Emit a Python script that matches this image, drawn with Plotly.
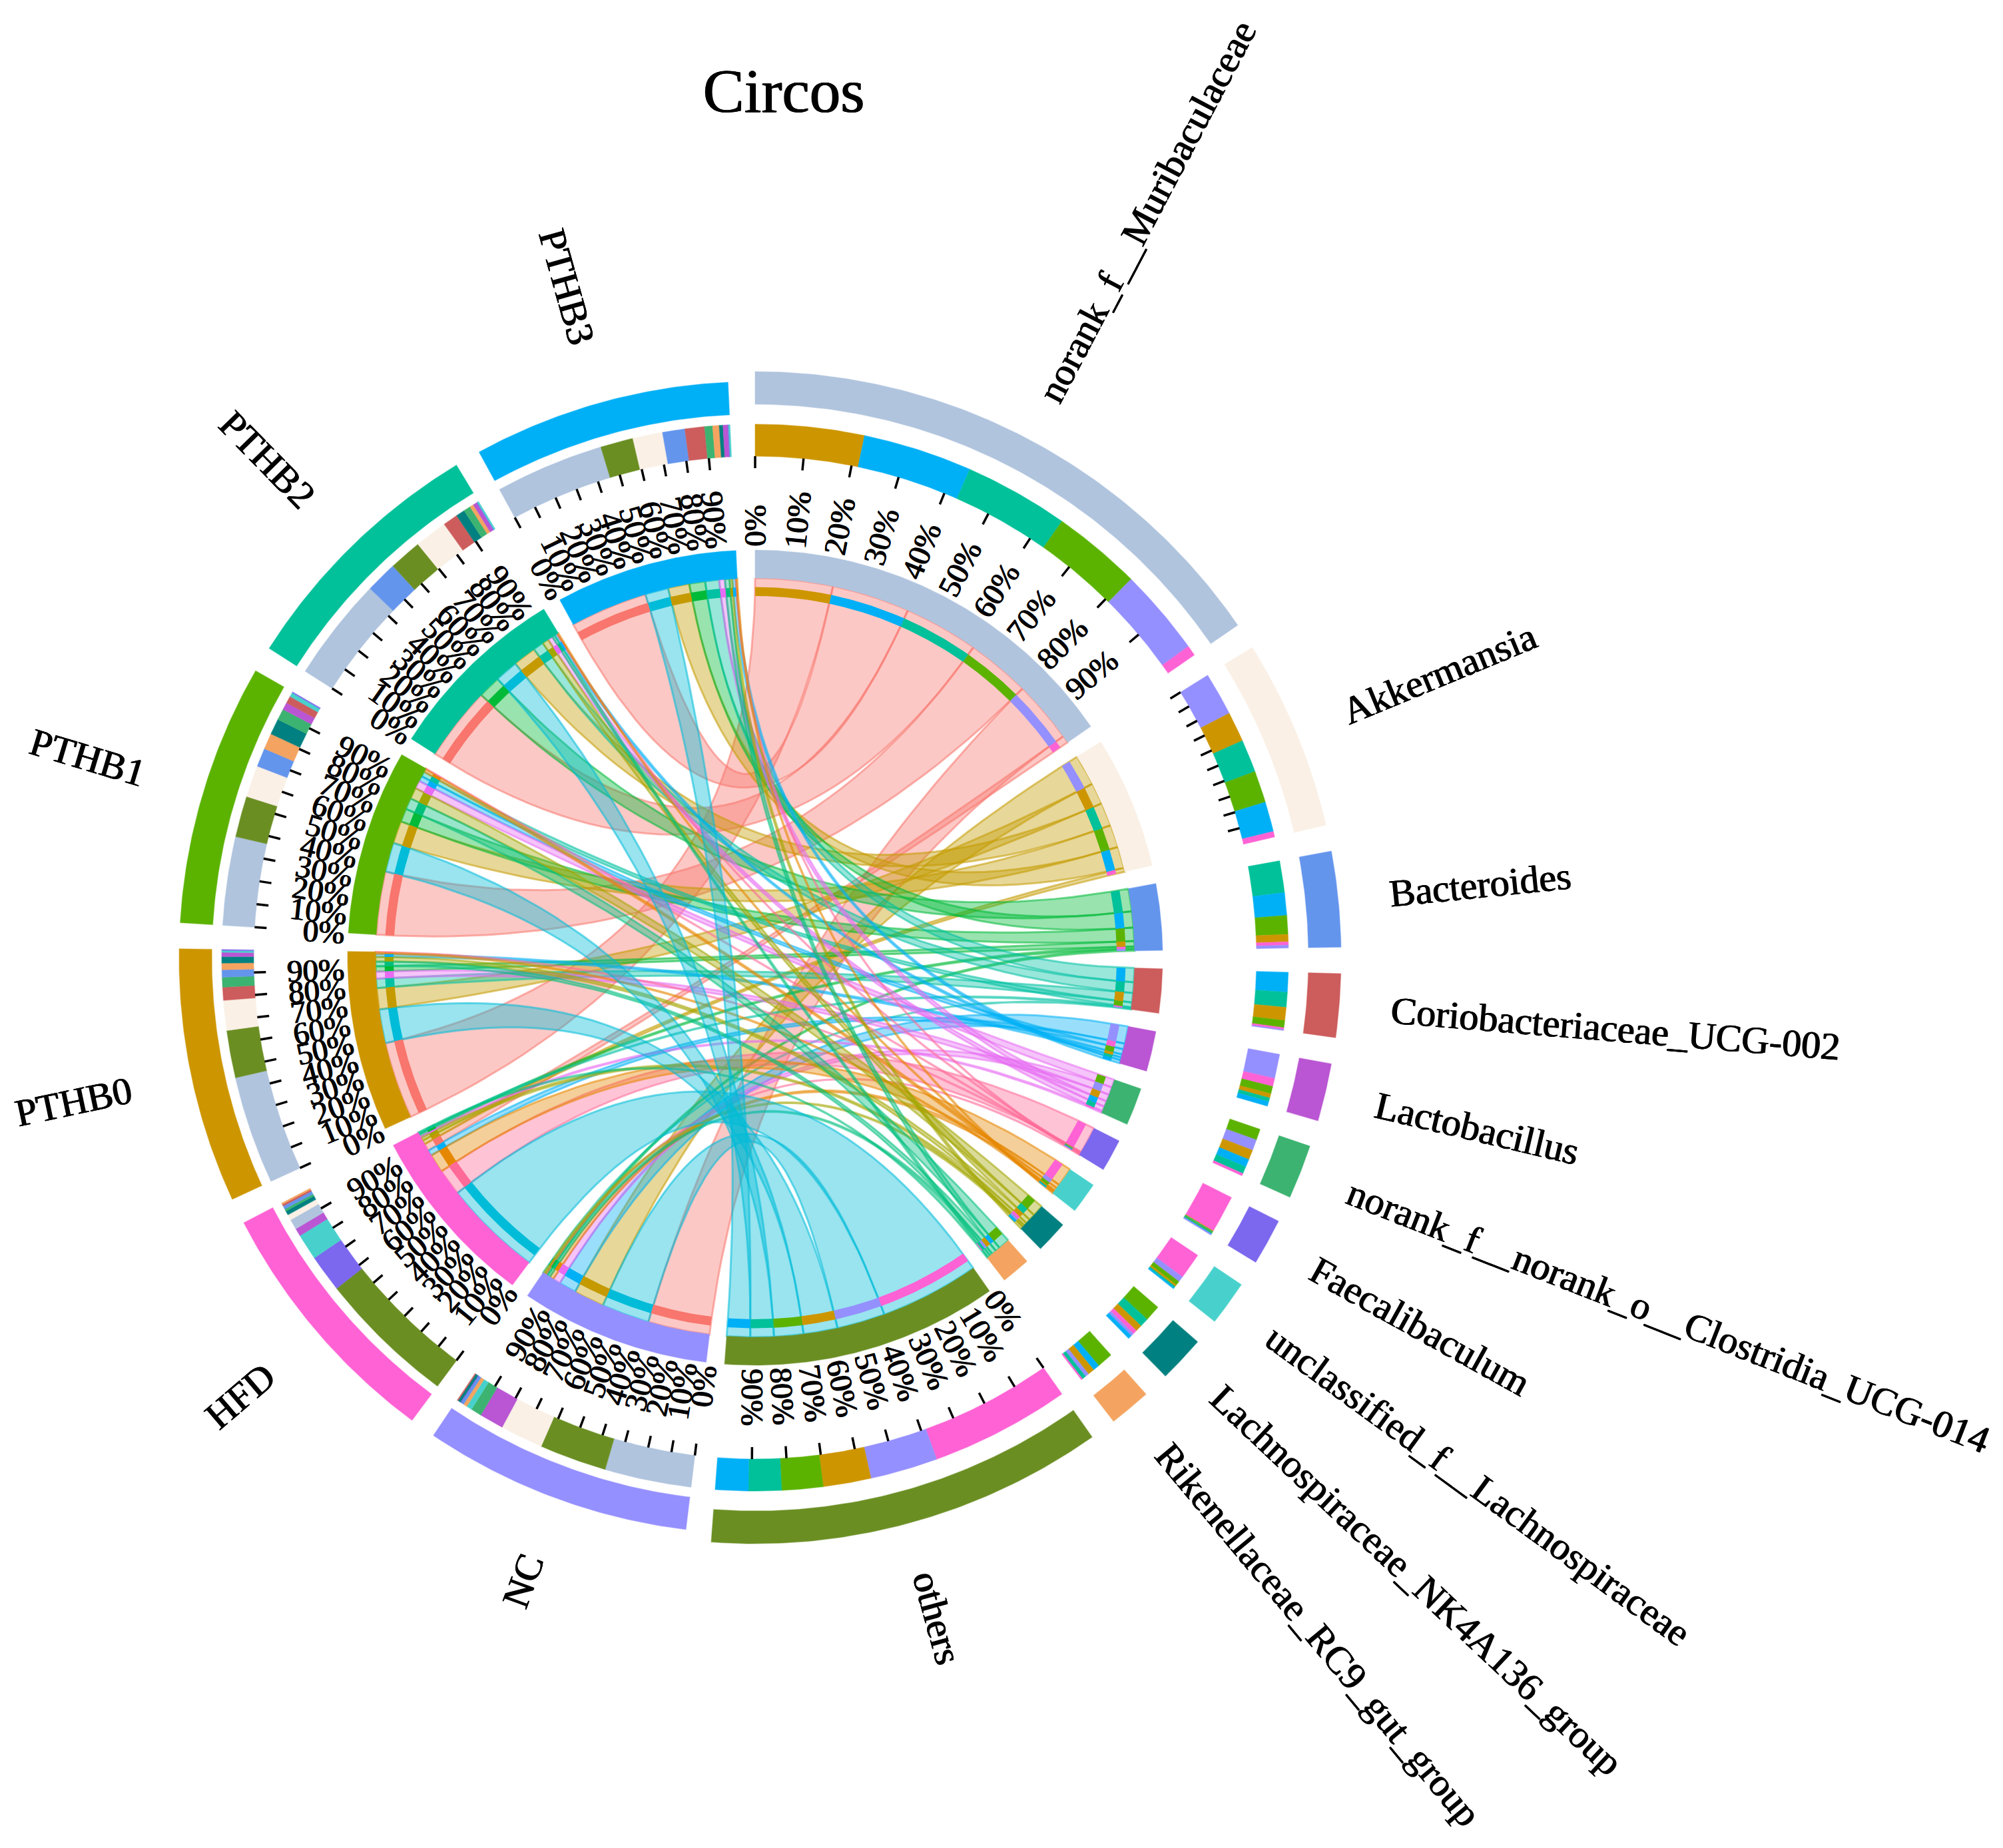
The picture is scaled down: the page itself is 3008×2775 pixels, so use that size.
import math
import plotly.graph_objects as go

taxa = ["norank_f__Muribaculaceae", "Akkermansia", "Bacteroides", "Coriobacteriaceae_UCG-002",
        "Lactobacillus", "norank_f__norank_o__Clostridia_UCG-014", "Faecalibaculum",
        "unclassified_f__Lachnospiraceae", "Lachnospiraceae_NK4A136_group",
        "Rikenellaceae_RC9_gut_group", "others"]
samples = ["NC", "HFD", "PTHB0", "PTHB1", "PTHB2", "PTHB3"]
tick_labels = ["0%", "10%", "20%", "30%", "40%", "50%", "60%", "70%", "80%", "90%"]

# abundance of each taxon (same order as taxa) in each sample
values_NC    = [9.3, 4.6, 0.3, 0.1, 2.6, 1.15, 0.1, 0.6, 0.3, 0.4, 7.2]
values_HFD   = [1.1, 0.6, 0.35, 0.2, 0.85, 0.25, 4.0, 2.8, 0.45, 0.15, 14.9]
values_PTHB0 = [11.6, 3.2, 0.8, 1.4, 0.45, 1.05, 0.1, 0.2, 0.7, 0.7, 5.1]
values_PTHB1 = [9.5, 3.4, 2.0, 0.75, 0.8, 1.2, 0.1, 0.45, 1.7, 1.7, 4.4]
values_PTHB2 = [11.15, 3.5, 3.4, 1.6, 0.4, 0.75, 0.1, 0.15, 0.95, 0.4, 3.5]
values_PTHB3 = [11.65, 3.2, 2.4, 2.1, 0.5, 0.85, 0.1, 0.15, 0.4, 0.7, 3.5]
values = [values_NC, values_HFD, values_PTHB0, values_PTHB1, values_PTHB2, values_PTHB3]

# order of the parts inside each taxon sector (indices into samples), clockwise
order_taxon = [
    [2, 5, 4, 3, 0, 1], [0, 2, 4, 3, 5, 1], [4, 5, 3, 2, 1, 0], [5, 4, 2, 3, 1, 0],
    [0, 1, 3, 2, 4, 5], [3, 0, 2, 5, 4, 1], [1, 2, 4, 3, 5, 0], [1, 0, 3, 2, 4, 5],
    [3, 4, 2, 1, 0, 5], [3, 5, 2, 0, 4, 1], [1, 0, 2, 3, 4, 5],
]
# order of the parts inside each sample sector (indices into taxa), clockwise
order_sample = [
    [0, 10, 1, 4, 5, 7, 9, 2, 6, 8, 3],
    [10, 6, 7, 4, 0, 1, 8, 5, 2, 3, 9],
    [0, 10, 1, 3, 5, 2, 9, 8, 4, 7, 6],
    [0, 10, 1, 2, 9, 8, 5, 4, 3, 7, 6],
    [0, 2, 10, 1, 3, 8, 5, 9, 4, 6, 7],
    [0, 10, 1, 2, 3, 5, 9, 8, 4, 6, 7],
]

taxon_colors = ["#B0C4DE", "#FAF0E6", "#6495ED", "#CD5C5C", "#BA55D3", "#3CB371",
                "#7B68EE", "#48D1CC", "#008080", "#F4A460", "#6B8E23"]
sample_colors = ["#9590FF", "#FF62D5", "#CD9600", "#5BB300", "#00C19A", "#00B0F6"]
ribbon_colors = ["#F8766D", "#C49A00", "#00BA38", "#00C1A3", "#00B0F6", "#E76BF3",
                 "#FF6A98", "#E58700", "#A3A500", "#00BF7D", "#00BCD8"]

tick_taxa = {"norank_f__Muribaculaceae", "Akkermansia", "others"}
label_taxa = {"norank_f__Muribaculaceae", "others"}

CX, CY = 1134.0, 1438.0
START, GAP = 0.0, 2.6
TAXA_SPAN, SAMPLE_SPAN = 158.3, 157.4
R_OUT_T = (831, 880)
R_OUT_S = (816, 865)
R_MID = (753, 801)
R_TICK = (735, 753)
R_IN = (570, 612)
R_STRIPE = (543, 556.5)
R_BASE = 570
R_LABEL = 617
R_NAME = 958
LABEL_SIZE, NAME_SIZE = 47, 58
THICK = "0.7px 0 0 #000, -0.7px 0 0 #000"


def rgba(hexc, a):
    return f"rgba({int(hexc[1:3],16)},{int(hexc[3:5],16)},{int(hexc[5:7],16)},{a})"


def pt(theta, r):
    t = math.radians(theta)
    return CX + r * math.sin(t), CY - r * math.cos(t)


def arc(t1, t2, r):
    n = max(2, int(abs(t2 - t1) / 0.5) + 2)
    return [pt(t1 + (t2 - t1) * i / (n - 1), r) for i in range(n)]


def bez(p0, p2):
    out = []
    for i in range(41):
        u = i / 40
        out.append(((1-u)**2*p0[0] + 2*u*(1-u)*CX + u*u*p2[0],
                    (1-u)**2*p0[1] + 2*u*(1-u)*CY + u*u*p2[1]))
    return out


W = dict(zip("0123456789%_-", [.5]*10 + [.833, .5, .333]))
W.update(dict(a=.444, b=.5, c=.444, d=.5, e=.444, f=.333, g=.5, h=.5, i=.278, j=.278, k=.5, l=.278,
              m=.778, n=.5, o=.5, p=.5, q=.5, r=.333, s=.389, t=.278, u=.5, v=.5, w=.722, x=.5, y=.5, z=.444,
              A=.722, B=.667, C=.667, D=.722, F=.556, G=.722, H=.722, L=.611, N=.722, P=.556, R=.667, T=.611, U=.722))


def text_w(s, size):
    return sum(W.get(c, .5) for c in s) * size


fig = go.Figure()


def poly(pts, fill, line=None, lw=0):
    fig.add_trace(go.Scatter(x=[p[0] for p in pts] + [pts[0][0]], y=[p[1] for p in pts] + [pts[0][1]],
                             mode="lines", fill="toself", fillcolor=fill,
                             line=dict(color=line or "rgba(0,0,0,0)", width=lw),
                             hoverinfo="skip", showlegend=False))


def band(t1, t2, rr, color, edge=True):
    pts = arc(t1, t2, rr[1]) + arc(t2, t1, rr[0])
    poly(pts, color, rgba(color, .35) if edge else None, 1.5 if edge else 0)


taxon_totals = [sum(v[j] for v in values) for j in range(len(taxa))]
sample_totals = [sum(v) for v in values]
scale_t = TAXA_SPAN / sum(taxon_totals)
scale_s = SAMPLE_SPAN / sum(sample_totals)

sectors = []
a = START
for name, tot, col, sc in zip(taxa + samples, taxon_totals + sample_totals, taxon_colors + sample_colors,
                              [scale_t] * len(taxa) + [scale_s] * len(samples)):
    w = tot * sc
    sectors.append((name, a, a + w, col))
    a += w + GAP

n_t = len(taxa)
taxon_span, sample_span = {}, {}
for j in range(n_t):
    a = sectors[j][1]
    for i in order_taxon[j]:
        w = values[i][j] * scale_t
        taxon_span[(i, j)] = (a, a + w)
        a += w
for i in range(len(samples)):
    a = sectors[n_t + i][1]
    for j in order_sample[i]:
        w = values[i][j] * scale_s
        sample_span[(i, j)] = (a, a + w)
        a += w

# ribbons
for j in range(n_t):
    for i in order_taxon[j]:
        a1, a2 = taxon_span[(i, j)]
        b1, b2 = sample_span[(i, j)]
        pts = arc(a1, a2, R_BASE) + bez(pt(a2, R_BASE), pt(b1, R_BASE)) + arc(b1, b2, R_BASE) + bez(pt(b2, R_BASE), pt(a1, R_BASE))
        poly(pts, rgba(ribbon_colors[j], .4), rgba(ribbon_colors[j], .55), 3)

# stripes
for (i, j), (a1, a2) in taxon_span.items():
    band(a1, a2, R_STRIPE, sample_colors[i], False)
for (i, j), (b1, b2) in sample_span.items():
    band(b1, b2, R_STRIPE, ribbon_colors[j], False)

# rings
for k, (name, t1, t2, col) in enumerate(sectors):
    band(t1, t2, R_OUT_S if k >= n_t else R_OUT_T, col)
    band(t1, t2, R_IN, col)
for (i, j), (a1, a2) in taxon_span.items():
    band(a1, a2, R_MID, sample_colors[i])
for (i, j), (b1, b2) in sample_span.items():
    band(b1, b2, R_MID, taxon_colors[j])

# ticks and tick labels
tx, ty = [], []
annotations = []
for k, (name, t1, t2, col) in enumerate(sectors):
    is_sample = k >= n_t
    for q, lab in enumerate(tick_labels):
        th = t1 + (t2 - t1) * q / 10
        if is_sample or name in tick_taxa:
            p0, p1 = pt(th, R_TICK[1]), pt(th, R_TICK[0])
            tx += [p0[0], p1[0], None]
            ty += [p0[1], p1[1], None]
        if is_sample or name in label_taxa:
            w = text_w(lab, LABEL_SIZE)
            x, y = pt(th, R_LABEL + w / 2)
            annotations.append(dict(x=x, y=y, text=lab, showarrow=False, xanchor="center", yanchor="middle",
                                    textangle=(th - 270) if is_sample else (th - 90),
                                    font=dict(family="Liberation Serif", size=LABEL_SIZE, color="black", shadow=THICK)))
    mid = (t1 + t2) / 2
    w = text_w(name, NAME_SIZE)
    x, y = pt(mid, R_NAME + w / 2)
    annotations.append(dict(x=x, y=y, text=name, showarrow=False, xanchor="center", yanchor="middle",
                            textangle=(mid - 270) if is_sample else (mid - 90),
                            font=dict(family="Liberation Serif", size=NAME_SIZE, color="black", shadow=THICK)))

fig.add_trace(go.Scatter(x=tx, y=ty, mode="lines", line=dict(color="black", width=3.5),
                         hoverinfo="skip", showlegend=False))

fig.update_layout(
    width=3008, height=2775, autosize=False,
    margin=dict(l=0, r=0, t=0, b=0),
    paper_bgcolor="white", plot_bgcolor="white",
    xaxis=dict(range=[0, 3008], visible=False, fixedrange=True),
    yaxis=dict(range=[2775, 0], visible=False, fixedrange=True),
    showlegend=False,
    title=dict(text="Circos", x=1177/3008, y=1-135/2775, xanchor="center", yanchor="middle",
               font=dict(family="Liberation Serif", size=93, color="black", shadow=THICK)),
    annotations=annotations,
)
fig.write_html("out.html", config={"displayModeBar": False}, post_script="document.body.style.margin='0';")
